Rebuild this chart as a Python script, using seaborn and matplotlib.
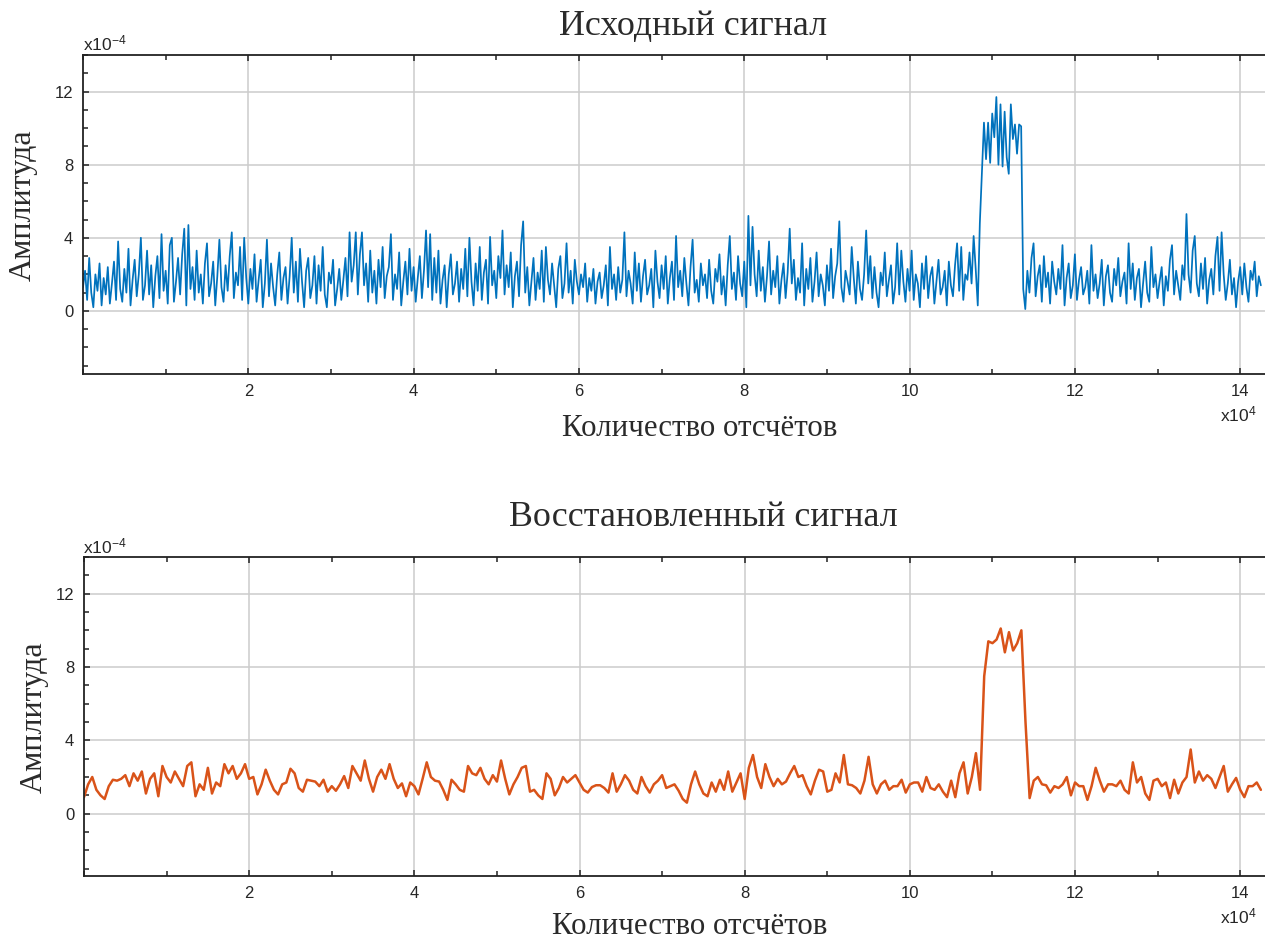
import numpy as np
import pandas as pd
import matplotlib
matplotlib.use("Agg")
import matplotlib.pyplot as plt
from matplotlib.ticker import FixedLocator, FixedFormatter, MultipleLocator
import seaborn as sns

sns.set_style("white")
plt.rcParams['font.family'] = ['Liberation Sans', 'DejaVu Sans']
plt.rcParams['mathtext.fontset'] = 'custom'
plt.rcParams['mathtext.rm'] = 'Liberation Sans'
plt.rcParams['mathtext.it'] = 'Liberation Sans:italic'
SERIF = ['Liberation Serif', 'DejaVu Serif']

# ---------------- data ----------------
titles = ["Исходный сигнал", "Восстановленный сигнал"]
x_label = "Количество отсчётов"
y_label = "Амплитуда"
x_tick_values = [2, 4, 6, 8, 10, 12, 14]      # x10^4 samples
y_tick_values = [0, 4, 8, 12]                 # x10^-4 amplitude

top_step = 250   # samples between points of the original signal
top_amp = [  # amplitude, x10^-4
    1.3, 2.2, 0.6, 2.9, 1.0, 0.2, 2.0, 1.1, 2.6, 0.3,
    1.8, 0.9, 2.4, 0.4, 1.5, 2.7, 0.6, 3.8, 1.2, 0.5,
    2.3, 1.0, 3.4, 0.3, 1.7, 2.8, 0.8, 2.0, 4.0, 0.6,
    1.4, 3.3, 0.9, 2.5, 0.2, 1.9, 3.0, 0.7, 4.2, 1.1,
    2.2, 0.4, 3.6, 4.0, 0.5, 1.6, 2.9, 0.9, 3.1, 4.5,
    0.3, 4.7, 1.2, 2.4, 0.6, 3.3, 1.0, 2.0, 0.4, 2.6,
    3.7, 0.8, 1.5, 2.7, 0.3, 1.9, 3.9, 1.3, 0.5, 2.5,
    1.1, 3.0, 4.3, 0.7, 2.1, 1.4, 3.5, 0.6, 4.0, 1.8,
    0.4, 2.3, 1.2, 3.1, 0.5, 1.7, 2.8, 0.2, 1.5, 3.9,
    0.8, 2.6, 1.3, 0.3, 2.0, 3.2, 0.6, 1.8, 2.4, 0.4,
    1.9, 4.0, 1.0, 2.7, 0.5, 3.4, 1.6, 0.2, 2.2, 2.9,
    0.7, 1.4, 3.0, 0.4, 2.5, 1.1, 3.5, 0.9, 0.2, 2.1,
    1.5, 2.8, 0.3, 1.2, 2.3, 0.6, 1.7, 2.9, 0.8, 4.3,
    1.6, 2.5, 4.3, 0.9, 3.1, 4.3, 1.4, 2.6, 0.5, 3.3,
    1.0, 2.2, 0.4, 2.8, 1.3, 3.5, 0.7, 1.9, 2.4, 4.2,
    0.6, 2.0, 1.2, 3.2, 0.3, 1.6, 2.7, 0.9, 3.4, 1.1,
    2.4, 0.5, 1.8, 3.0, 0.7, 2.2, 4.4, 1.3, 4.2, 0.6,
    2.9, 1.0, 3.3, 0.4, 1.7, 2.5, 0.2, 2.0, 3.1, 0.9,
    1.5, 2.7, 0.5, 2.3, 1.2, 3.4, 0.8, 4.0, 1.6, 0.3,
    2.6, 1.1, 3.5, 0.6, 2.1, 2.8, 0.4, 4.05, 1.4, 2.2,
    0.7, 3.0, 1.8, 4.4, 0.9, 2.5, 1.3, 3.2, 0.2, 1.9,
    2.7, 0.8, 3.6, 4.9, 1.0, 2.4, 0.3, 1.6, 2.9, 0.6,
    2.1, 1.2, 3.3, 0.5, 3.5, 1.7, 0.9, 2.6, 1.4, 0.2,
    2.3, 3.0, 0.7, 1.5, 3.7, 1.0, 2.2, 0.4, 2.8, 1.6,
    0.9, 2.0, 1.3, 2.6, 0.5, 1.8, 1.1, 2.3, 0.4, 1.6,
    2.1, 0.7, 1.4, 2.5, 0.3, 3.5, 1.2, 2.0, 0.6, 2.4,
    1.0, 1.7, 4.3, 0.8, 2.2, 1.5, 0.4, 3.2, 1.1, 2.6,
    0.5, 1.9, 2.8, 0.9, 1.4, 2.3, 0.2, 3.3, 1.6, 0.7,
    2.5, 1.2, 3.0, 0.4, 1.8, 2.7, 0.6, 4.1, 1.3, 2.2,
    0.8, 2.9, 1.5, 0.3, 2.4, 3.9, 1.0, 1.7, 0.5, 2.6,
    1.4, 2.0, 0.7, 2.8, 1.1, 0.4, 2.3, 1.6, 3.1, 0.9,
    1.9, 0.3, 2.5, 4.1, 1.2, 2.1, 0.6, 3.0, 1.5, 0.8,
    2.7, 0.2, 5.2, 1.4, 4.6, 2.0, 0.8, 3.3, 1.1, 2.4,
    0.5, 1.9, 3.8, 0.9, 2.2, 1.3, 3.0, 0.4, 1.7, 2.6,
    0.7, 2.1, 4.5, 1.5, 2.8, 0.6, 1.8, 1.0, 3.7, 0.3,
    2.3, 1.2, 2.9, 0.5, 1.6, 3.2, 0.8, 2.0, 1.4, 0.3,
    2.5, 1.1, 3.4, 0.7, 1.9, 2.6, 4.9, 1.3, 0.5, 2.2,
    1.6, 0.9, 3.5, 1.8, 0.4, 2.7, 1.2, 0.6, 2.0, 4.4,
    1.5, 3.0, 0.7, 2.4, 1.0, 0.2, 2.1, 1.4, 3.2, 0.8,
    1.7, 2.5, 0.4, 1.3, 3.7, 0.9, 3.3, 1.6, 0.5, 2.3,
    1.1, 3.3, 0.6, 2.0, 1.5, 0.2, 2.6, 1.2, 3.0, 0.7,
    1.9, 2.4, 0.4, 1.6, 2.8, 0.9, 1.3, 2.2, 0.3, 2.7,
    1.4, 0.8, 2.5, 3.7, 1.1, 3.5, 0.6, 2.0, 1.7, 3.2,
    1.5, 4.1, 2.3, 0.3, 4.8, 7.5, 10.3, 8.3, 10.3, 8.1,
    10.8, 9.5, 11.7, 8.0, 11.3, 7.9, 10.9, 8.4, 7.5, 11.3,
    9.4, 10.2, 8.6, 10.2, 10.1, 1.2, 0.1, 2.2, 1.0, 2.9,
    3.7, 0.8, 1.9, 2.5, 0.5, 3.0, 1.3, 2.1, 0.4, 2.7,
    1.6, 0.9, 2.3, 1.2, 3.6, 0.3, 1.8, 2.6, 0.7, 1.4,
    3.1, 0.6, 1.7, 2.4, 0.9, 1.3, 2.2, 0.4, 3.6, 1.1,
    2.0, 0.7, 1.5, 2.8, 0.3, 1.9, 2.5, 1.0, 0.5, 2.3,
    1.4, 2.9, 0.8, 1.6, 2.1, 0.4, 3.7, 1.2, 2.6, 0.6,
    1.8, 2.3, 0.2, 1.5, 2.7, 1.0, 0.5, 3.5, 1.3, 2.0,
    0.7, 1.6, 2.4, 0.3, 1.9, 1.1, 2.8, 3.6, 0.9, 2.2,
    1.4, 0.6, 2.5, 1.7, 5.3, 2.0, 1.0, 3.3, 4.1, 1.5,
    0.8, 2.6, 1.2, 2.9, 0.4, 1.7, 2.3, 0.9, 3.0, 4.05,
    1.1, 4.3, 2.0, 0.6, 1.5, 2.8, 0.9, 1.8, 0.2, 1.6,
    2.4, 0.9, 2.6, 1.3, 0.5, 2.2, 1.7, 2.7, 0.8, 1.9,
    1.4,
]

bottom_step = 500   # samples between points of the restored signal
bottom_amp = [  # amplitude, x10^-4
    0.9, 1.6, 2.0, 1.3, 1.0, 0.8, 1.5, 1.85, 1.8, 1.9,
    2.1, 1.5, 2.2, 1.8, 2.3, 1.1, 1.9, 2.2, 0.95, 2.6,
    2.0, 1.7, 2.3, 1.9, 1.5, 2.6, 2.8, 0.95, 1.6, 1.3,
    2.5, 1.1, 1.7, 1.5, 2.7, 2.2, 2.6, 1.9, 2.2, 2.7,
    1.9, 2.0, 1.05, 1.6, 2.4, 1.8, 1.3, 1.05, 1.6, 1.7,
    2.45, 2.2, 1.4, 1.2, 1.85, 1.8, 1.75, 1.5, 1.85, 1.2,
    1.5, 1.25, 1.6, 2.05, 1.4, 2.6, 2.2, 1.8, 2.9, 1.9,
    1.2, 2.0, 2.4, 1.9, 2.7, 1.9, 1.4, 1.65, 0.95, 1.7,
    1.5, 1.05, 1.9, 2.8, 2.0, 1.8, 1.75, 1.3, 0.75, 1.85,
    1.6, 1.3, 1.2, 2.6, 2.2, 2.1, 2.5, 1.9, 1.6, 2.1,
    1.75, 2.9, 1.9, 1.05, 1.6, 2.0, 2.5, 2.6, 1.2, 1.3,
    1.0, 0.8, 2.2, 1.9, 1.0, 1.4, 2.0, 1.7, 1.9, 2.1,
    1.7, 1.3, 1.15, 1.45, 1.55, 1.55, 1.4, 1.15, 2.2, 1.2,
    1.6, 2.1, 1.8, 1.3, 1.1, 2.0, 1.5, 1.15, 1.6, 1.8,
    2.1, 1.4, 1.5, 1.6, 1.25, 0.8, 0.6, 1.6, 2.3, 1.6,
    1.1, 0.95, 1.7, 1.2, 1.85, 1.3, 2.3, 1.2, 1.7, 2.2,
    0.8, 2.5, 3.2, 2.0, 1.4, 2.7, 2.0, 1.5, 1.9, 1.6,
    1.75, 2.2, 2.6, 2.0, 2.1, 1.5, 1.05, 1.8, 2.4, 2.3,
    1.2, 1.3, 2.2, 1.7, 3.2, 1.6, 1.55, 1.4, 1.1, 1.8,
    3.1, 1.6, 1.1, 1.6, 1.8, 1.3, 1.5, 1.5, 1.85, 1.15,
    1.6, 1.7, 1.7, 1.2, 2.0, 1.4, 1.3, 1.6, 1.2, 0.9,
    1.8, 0.9, 2.2, 2.8, 1.1, 2.0, 3.3, 1.3, 7.5, 9.4,
    9.3, 9.5, 10.1, 8.8, 9.9, 8.9, 9.3, 10.0, 5.0, 0.85,
    1.8, 2.0, 1.6, 1.55, 1.15, 1.5, 1.4, 1.6, 2.0, 1.0,
    1.7, 1.5, 1.5, 0.75, 1.5, 2.5, 1.8, 1.2, 1.6, 1.6,
    1.5, 1.8, 1.3, 1.1, 2.8, 1.7, 2.0, 1.1, 0.75, 1.8,
    1.9, 1.5, 1.7, 0.85, 1.85, 1.1, 1.7, 2.0, 3.5, 1.7,
    2.3, 1.8, 2.1, 1.9, 1.4, 2.0, 2.6, 1.2, 1.6, 1.95,
    1.3, 0.9, 1.5, 1.5, 1.7, 1.3,
]

top_df = pd.DataFrame({"sample": np.arange(len(top_amp)) * top_step,
                       "amp": top_amp})
bottom_df = pd.DataFrame({"sample": np.arange(len(bottom_amp)) * bottom_step,
                          "amp": bottom_amp})

# ---------------- figure ----------------
W, H = 1265, 939
fig = plt.figure(figsize=(W / 100, H / 100), dpi=100)


def rect(l, t, r, b):
    return [l / W, 1 - b / H, (r - l) / W, (b - t) / H]


ax1 = fig.add_axes(rect(83, 55, 1265, 374))
ax2 = fig.add_axes(rect(84, 557, 1265, 876))

sns.lineplot(data=top_df, x="sample", y="amp", ax=ax1, color="#0072BD",
             linewidth=1.25, sort=False, estimator=None)
sns.lineplot(data=bottom_df, x="sample", y="amp", ax=ax2, color="#D95319",
             linewidth=1.8, sort=False, estimator=None)

TICK_COLOR = "#262626"
for ax, ylim in ((ax1, (-3.45, 14.0)), (ax2, (-3.4, 14.0))):
    ax.set_xlim(0, 143000)
    ax.set_ylim(*ylim)
    ax.xaxis.set_major_locator(FixedLocator([v * 1e4 for v in x_tick_values]))
    ax.xaxis.set_major_formatter(FixedFormatter([str(v) for v in x_tick_values]))
    ax.xaxis.set_minor_locator(MultipleLocator(1e4))
    ax.yaxis.set_major_locator(FixedLocator(y_tick_values))
    ax.yaxis.set_major_formatter(FixedFormatter([str(v) for v in y_tick_values]))
    ax.yaxis.set_minor_locator(MultipleLocator(1))
    ax.tick_params(which="both", direction="in", top=True, bottom=True,
                   left=True, right=False, color="#222222", width=1.1,
                   labelcolor=TICK_COLOR, labelsize=12)
    ax.tick_params(which="major", length=4.5, pad=7)
    ax.tick_params(which="minor", length=3.5)
    ax.grid(True, which="major", color="#cccccc", linewidth=1.1)
    ax.set_axisbelow(True)
    for side in ("top", "left", "bottom"):
        ax.spines[side].set_visible(True)
        ax.spines[side].set_color("#222222")
        ax.spines[side].set_linewidth(1.3)
    ax.spines["right"].set_visible(False)
    ax.set_xlabel("")
    ax.set_ylabel("")

TEXT_COLOR = "#2a2a2a"
# titles
fig.text(693 / W, 1 - 27 / H, titles[0], ha="center", va="center",
         fontsize=25.8, family=SERIF, color=TEXT_COLOR)
fig.text(703 / W, 1 - 517 / H, titles[1], ha="center", va="center",
         fontsize=25.8, family=SERIF, color=TEXT_COLOR)

# axis labels
fig.text(23 / W, 1 - 205 / H, y_label, rotation=90, ha="center", va="center",
         fontsize=23, family=SERIF, color=TEXT_COLOR)
fig.text(34 / W, 1 - 717 / H, y_label, rotation=90, ha="center", va="center",
         fontsize=23, family=SERIF, color=TEXT_COLOR)
fig.text(700 / W, 1 - 428 / H, x_label, ha="center", va="center",
         fontsize=22.2, family=SERIF, color=TEXT_COLOR)
fig.text(690 / W, 1 - 926 / H, x_label, ha="center", va="center",
         fontsize=22.2, family=SERIF, color=TEXT_COLOR)

# exponent labels
for ybase in (50, 553):
    fig.text(83 / W, 1 - ybase / H, r"x10$^{\mathregular{-4}}$", ha="left",
             va="baseline", fontsize=12.5, color=TICK_COLOR)
for ybase in (421, 923):
    fig.text(1257 / W, 1 - ybase / H, r"x10$^{\mathregular{4}}$", ha="right",
             va="baseline", fontsize=12.5, color=TICK_COLOR)

fig.savefig("out.png", dpi=100)
